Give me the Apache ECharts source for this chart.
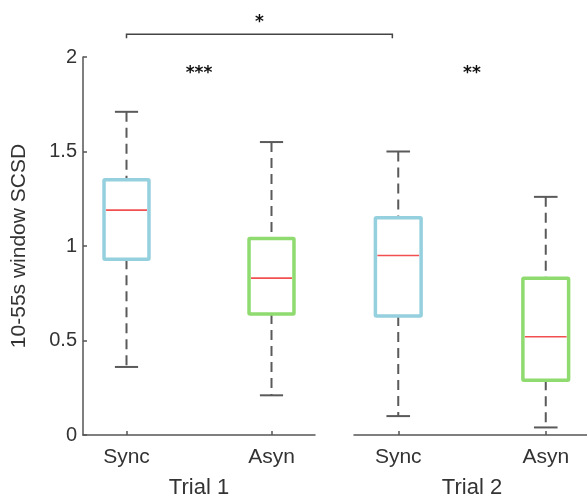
<!DOCTYPE html>
<html>
<head>
<meta charset="utf-8">
<script src="https://cdn.jsdelivr.net/npm/echarts@6/dist/echarts.min.js"></script>
<style>html,body{margin:0;padding:0;background:#fff}#c{width:587px;height:499px}</style>
</head>
<body>
<div id="c"></div>
<script>
// ---- data ----
const categories = ['Sync', 'Asyn'];
const trialNames = ['Trial 1', 'Trial 2'];
// [lower whisker, Q1, median, Q3, upper whisker]
const trial1Box = [
  [0.36, 0.93, 1.19, 1.35, 1.71],
  [0.21, 0.64, 0.83, 1.04, 1.55]
];
const trial2Box = [
  [0.10, 0.63, 0.95, 1.15, 1.50],
  [0.04, 0.29, 0.52, 0.83, 1.26]
];
const yTicks = [0, 0.5, 1, 1.5, 2];
const boxColors = ['#95d0de', '#8fdb70'];
const sigLabels = { bracket: '*', trial1: '***', trial2: '**' };
const bracketLevel = 2.12;
const starLevel = 1.91;

const chart = echarts.init(document.getElementById('c'), null, { renderer: 'canvas' });
const FONT = 'Liberation Sans, Arial, sans-serif';
const TXT = '#333';
const AX = '#555';

function boxRender(params, api) {
  const x = api.value(0);
  const lo = api.value(1), q1 = api.value(2), med = api.value(3), q3 = api.value(4), hi = api.value(5);
  const ci = api.value(6);
  const halfW = api.size([0.31, 0])[0] / 2;
  const capW = api.size([0.16, 0])[0] / 2;
  const pLo = api.coord([x, lo]), pQ1 = api.coord([x, q1]), pMed = api.coord([x, med]);
  const pQ3 = api.coord([x, q3]), pHi = api.coord([x, hi]);
  const cx = pLo[0];
  const dash = { stroke: '#5a5a5a', lineWidth: 2, lineDash: [10, 6] };
  const solid = { stroke: '#5a5a5a', lineWidth: 2 };
  return {
    type: 'group',
    children: [
      { type: 'line', shape: { x1: cx, y1: pHi[1], x2: cx, y2: pQ3[1] }, style: dash },
      { type: 'line', shape: { x1: cx, y1: pQ1[1], x2: cx, y2: pLo[1] }, style: dash },
      { type: 'line', shape: { x1: cx - capW, y1: pHi[1], x2: cx + capW, y2: pHi[1] }, style: solid },
      { type: 'line', shape: { x1: cx - capW, y1: pLo[1], x2: cx + capW, y2: pLo[1] }, style: solid },
      { type: 'rect', shape: { x: cx - halfW, y: pQ3[1], width: 2 * halfW, height: pQ1[1] - pQ3[1], r: 1 },
        style: { fill: '#fff', stroke: boxColors[ci], lineWidth: 3.5 } },
      { type: 'line', shape: { x1: cx - halfW + 2, y1: pMed[1], x2: cx + halfW - 2, y2: pMed[1] },
        style: { stroke: '#f25050', lineWidth: 1.6 } }
    ]
  };
}

function toSeriesData(boxes) {
  return boxes.map((b, i) => [i + 1, b[0], b[1], b[2], b[3], b[4], i]);
}

function xAxisDef(gi) {
  return {
    type: 'value', gridIndex: gi, min: 0.7, max: 2.3,
    name: trialNames[gi], nameLocation: 'middle', nameGap: 42,
    nameTextStyle: { fontFamily: FONT, fontSize: 22, color: TXT },
    axisLine: { show: true, lineStyle: { color: AX, width: 1.5 } },
    axisTick: { show: true, inside: true, length: 4, customValues: [1, 2], lineStyle: { color: AX, width: 1.5 } },
    axisLabel: { show: true, customValues: [1, 2], margin: 12, fontFamily: FONT, fontSize: 21, color: TXT,
      formatter: v => categories[Math.round(v) - 1] || '' },
    splitLine: { show: false }
  };
}

const option = {
  animation: false,
  backgroundColor: '#fff',
  grid: [
    { left: 83, top: 57, width: 232, height: 378, outerBoundsMode: 'none', containLabel: false },
    { left: 354, top: 57, width: 236, height: 378, outerBoundsMode: 'none', containLabel: false }
  ],
  xAxis: [xAxisDef(0), xAxisDef(1)],
  yAxis: [
    {
      type: 'value', gridIndex: 0, min: 0, max: 2, interval: 0.5,
      name: '10-55s window SCSD', nameLocation: 'middle', nameGap: 53, nameRotate: 90,
      nameTextStyle: { fontFamily: FONT, fontSize: 21, color: TXT },
      axisLine: { show: true, lineStyle: { color: AX, width: 1.5 } },
      axisTick: { show: true, inside: true, length: 4, lineStyle: { color: AX, width: 1.5 } },
      axisLabel: { margin: 6, fontFamily: FONT, fontSize: 20, color: TXT,
        formatter: v => yTicks.includes(v) ? String(v) : '' },
      splitLine: { show: false }
    },
    {
      type: 'value', gridIndex: 1, min: 0, max: 2, interval: 0.5,
      axisLine: { show: false }, axisTick: { show: false }, axisLabel: { show: false },
      splitLine: { show: false }
    }
  ],
  series: [
    { type: 'custom', xAxisIndex: 0, yAxisIndex: 0, renderItem: boxRender, data: toSeriesData(trial1Box),
      encode: { x: 0, y: [1, 2, 3, 4, 5] }, clip: false },
    { type: 'custom', xAxisIndex: 1, yAxisIndex: 1, renderItem: boxRender, data: toSeriesData(trial2Box),
      encode: { x: 0, y: [1, 2, 3, 4, 5] }, clip: false }
  ]
};
chart.setOption(option);

// significance annotations positioned through the axes' scales
const pA = chart.convertToPixel({ gridIndex: 0 }, [1, bracketLevel]);
const pB = chart.convertToPixel({ gridIndex: 1 }, [0.96, bracketLevel]);
const s1 = chart.convertToPixel({ gridIndex: 0 }, [1.5, starLevel]);
const s2 = chart.convertToPixel({ gridIndex: 1 }, [1.5, starLevel]);
const starStyle = { fontFamily: 'DejaVu Sans', fontSize: 17, fontWeight: 'bold', fill: '#111', align: 'center', verticalAlign: 'middle' };
chart.setOption({
  graphic: [
    { type: 'polyline', shape: { points: [[pA[0], pA[1] + 4], [pA[0], pA[1]], [pB[0], pB[1]], [pB[0], pB[1] + 4]] },
      style: { stroke: '#444', lineWidth: 1.5, fill: null } },
    { type: 'text', x: (pA[0] + pB[0]) / 2, y: pA[1] - 12, style: Object.assign({ text: sigLabels.bracket }, starStyle) },
    { type: 'text', x: s1[0], y: s1[1], style: Object.assign({ text: sigLabels.trial1 }, starStyle) },
    { type: 'text', x: s2[0], y: s2[1], style: Object.assign({ text: sigLabels.trial2 }, starStyle) }
  ]
});
</script>
</body>
</html>
